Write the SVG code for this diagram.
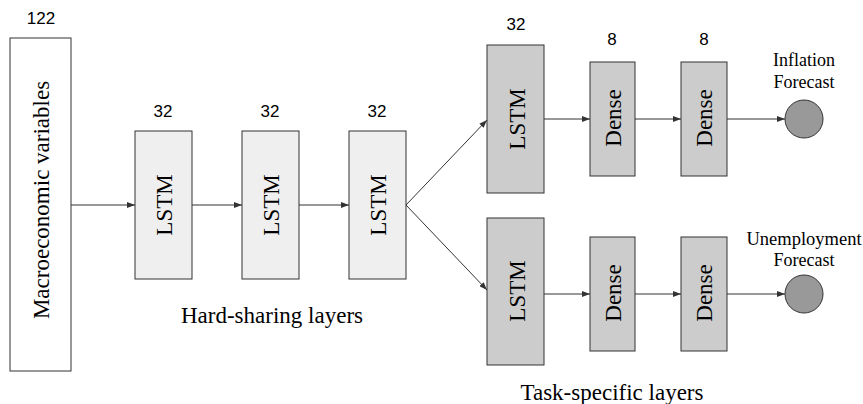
<svg xmlns="http://www.w3.org/2000/svg" width="863" height="404" viewBox="0 0 863 404">
  <style>
    .num { font-family: "Liberation Sans", Arial, sans-serif; font-size: 17px; fill: #000; text-anchor: middle; }
    .lbl { font-family: "Liberation Serif", "Times New Roman", serif; fill: #000; text-anchor: middle; }
    .box { stroke: #333; stroke-width: 1; }
    .input { fill: #fff; }
    .shared { fill: #efefef; }
    .task { fill: #cccccc; }
    .out { fill: #999999; stroke: #333; stroke-width: 1; }
    .edge { stroke: #333; stroke-width: 1; fill: none; }
  </style>
  <defs>
    <marker id="arrow" viewBox="0 0 8 6" refX="8" refY="3" markerWidth="8" markerHeight="6" markerUnits="userSpaceOnUse" orient="auto">
      <path d="M0,0 L8,3 L0,6 Z" fill="#333"/>
    </marker>
  </defs>
  <rect width="863" height="404" fill="#fff"/>

  <!-- connectors -->
  <g id="connectors">
    <line class="edge" x1="71" y1="205" x2="135" y2="205" marker-end="url(#arrow)"/>
    <line class="edge" x1="192" y1="205" x2="242" y2="205" marker-end="url(#arrow)"/>
    <line class="edge" x1="299" y1="205" x2="349" y2="205" marker-end="url(#arrow)"/>
    <line class="edge" x1="406" y1="205" x2="487" y2="120" marker-end="url(#arrow)"/>
    <line class="edge" x1="406" y1="205" x2="487" y2="290" marker-end="url(#arrow)"/>
    <line class="edge" x1="544" y1="119" x2="590" y2="119" marker-end="url(#arrow)"/>
    <line class="edge" x1="635" y1="119" x2="681" y2="119" marker-end="url(#arrow)"/>
    <line class="edge" x1="727" y1="119" x2="785" y2="119" marker-end="url(#arrow)"/>
    <line class="edge" x1="544" y1="294" x2="590" y2="294" marker-end="url(#arrow)"/>
    <line class="edge" x1="635" y1="294" x2="681" y2="294" marker-end="url(#arrow)"/>
    <line class="edge" x1="727" y1="294" x2="785" y2="294" marker-end="url(#arrow)"/>
  </g>

  <!-- input -->
  <g id="input">
    <text class="num" x="41" y="24">122</text>
    <rect class="box input" x="10" y="38" width="61" height="333"/>
    <text class="lbl" font-size="23" transform="translate(49,200) rotate(-90)">Macroeconomic variables</text>
  </g>

  <!-- shared LSTM stack -->
  <g id="shared1">
    <text class="num" x="163" y="117">32</text>
    <rect class="box shared" x="135" y="131" width="57" height="148"/>
    <text class="lbl" font-size="23" transform="translate(172,205) rotate(-90)">LSTM</text>
  </g>
  <g id="shared2">
    <text class="num" x="270" y="117">32</text>
    <rect class="box shared" x="242" y="131" width="57" height="148"/>
    <text class="lbl" font-size="23" transform="translate(279,205) rotate(-90)">LSTM</text>
  </g>
  <g id="shared3">
    <text class="num" x="377" y="117">32</text>
    <rect class="box shared" x="349" y="131" width="57" height="148"/>
    <text class="lbl" font-size="23" transform="translate(386,205) rotate(-90)">LSTM</text>
  </g>
  <text class="lbl" font-size="23" x="272" y="323">Hard-sharing layers</text>

  <!-- inflation branch -->
  <g id="inflation-lstm">
    <text class="num" x="516" y="30">32</text>
    <rect class="box task" x="487" y="45" width="57" height="148"/>
    <text class="lbl" font-size="23" transform="translate(525,119) rotate(-90)">LSTM</text>
  </g>
  <g id="inflation-dense1">
    <text class="num" x="612" y="45">8</text>
    <rect class="box task" x="590" y="62" width="45" height="114"/>
    <text class="lbl" font-size="23" transform="translate(621,118) rotate(-90)">Dense</text>
  </g>
  <g id="inflation-dense2">
    <text class="num" x="704" y="45">8</text>
    <rect class="box task" x="681" y="62" width="46" height="114"/>
    <text class="lbl" font-size="23" transform="translate(712,118) rotate(-90)">Dense</text>
  </g>
  <g id="inflation-output">
    <text class="lbl" font-size="18" x="804" y="66">Inflation</text>
    <text class="lbl" font-size="18" x="804" y="88">Forecast</text>
    <circle class="out" cx="804" cy="119" r="19"/>
  </g>

  <!-- unemployment branch -->
  <g id="unemployment-lstm">
    <rect class="box task" x="487" y="218" width="57" height="147"/>
    <text class="lbl" font-size="23" transform="translate(525,291) rotate(-90)">LSTM</text>
  </g>
  <g id="unemployment-dense1">
    <rect class="box task" x="590" y="237" width="45" height="114"/>
    <text class="lbl" font-size="23" transform="translate(621,293) rotate(-90)">Dense</text>
  </g>
  <g id="unemployment-dense2">
    <rect class="box task" x="681" y="237" width="46" height="114"/>
    <text class="lbl" font-size="23" transform="translate(712,293) rotate(-90)">Dense</text>
  </g>
  <g id="unemployment-output">
    <text class="lbl" font-size="18.5" x="804" y="245">Unemployment</text>
    <text class="lbl" font-size="18" x="804" y="266">Forecast</text>
    <circle class="out" cx="804" cy="294" r="19"/>
  </g>
  <text class="lbl" font-size="23" x="612" y="400">Task-specific layers</text>
</svg>
